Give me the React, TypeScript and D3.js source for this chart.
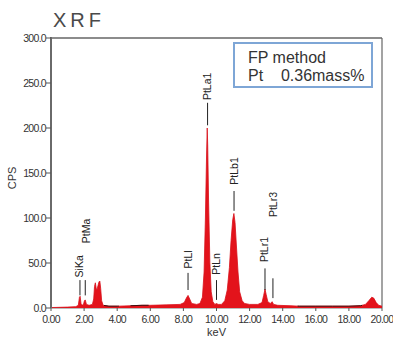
import React from "react";
import * as d3 from "d3";

const spectrumKeV = [0, 1.0, 1.5, 1.65, 1.72, 1.76, 1.82, 1.95, 2.02, 2.07, 2.14, 2.3, 2.5, 2.58, 2.63, 2.68, 2.73, 2.78, 2.84, 2.9, 2.95, 3.0, 3.06, 3.15, 3.5, 4.0, 4.8, 5.5, 6.0, 7.0, 7.8, 8.05, 8.18, 8.28, 8.38, 8.5, 8.8, 9.0, 9.15, 9.25, 9.33, 9.4, 9.44, 9.47, 9.52, 9.6, 9.68, 9.78, 9.9, 10.0, 10.1, 10.3, 10.5, 10.65, 10.78, 10.88, 10.98, 11.05, 11.12, 11.2, 11.3, 11.4, 11.55, 11.7, 12.0, 12.5, 12.75, 12.85, 12.93, 13.0, 13.1, 13.25, 13.36, 13.45, 13.7, 14.5, 15.0, 16, 17, 18, 18.7, 19.0, 19.2, 19.38, 19.5, 19.65, 19.8, 20];
const spectrumCPS = [0.5, 1, 1.5, 3, 12, 13, 4, 3, 8, 9, 4, 3, 4, 10, 24, 28, 22, 20, 25, 29, 30, 22, 8, 3, 2, 2, 2.5, 3, 3, 3.5, 4, 6, 11, 14, 10, 5, 4, 5, 12, 40, 100, 170, 200, 180, 120, 50, 18, 7, 4, 5, 4, 4, 8, 20, 45, 75, 98, 105, 95, 70, 40, 18, 8, 5, 4, 4, 6, 14, 21, 15, 7, 5, 7, 4, 3, 2.5, 2, 2, 2, 2, 2.5, 4, 8, 12, 11, 6, 3, 2];

const darkSegments: [number, number][] = [[3.2, 4.1], [4.8, 5.9], [14.9, 18.8]];

const markerNames = ["SiKa", "PtMa", "PtLl", "PtLa1", "PtLn", "PtLb1", "PtLr1", "PtLr3"];
const markerKeV = [1.75, 2.07, 8.28, 9.46, 10.0, 11.06, 12.93, 13.41];
const markerLabelKeV = [1.75, 2.13, 8.28, 9.48, 10.0, 11.08, 12.93, 13.45];
const markerLineLow = [14, 14, 20, 203, 9, 108, 20, 11];
const markerLineHigh = [31, 31, 39, 228, 31, 130, 44, 33];
const markerLabelBase = [34, 72, 44, 231, 37, 137, 51, 101];

const xTicks = [0, 2, 4, 6, 8, 10, 12, 14, 16, 18, 20];
const yTicks = [0, 50, 100, 150, 200, 250, 300];

const title = "XRF";
const legendLines = ["FP method", "Pt\u00a0\u00a0\u00a0\u00a00.36mass%"];

export default function App() {
  const W = 393, H = 338;
  const x = d3.scaleLinear().domain([0, 20]).range([51, 382]);
  const y = d3.scaleLinear().domain([0, 300]).range([308, 38]);
  const pts: [number, number][] = spectrumKeV.map((k, i) => [k, spectrumCPS[i]]);
  const area = d3.area<[number, number]>().x(d => x(d[0])).y0(y(0)).y1(d => y(d[1]));
  const line = d3.line<[number, number]>().x(d => x(d[0])).y(d => y(d[1]));
  const interp = (k: number) => {
    const i = d3.bisectLeft(spectrumKeV, k);
    if (i <= 0) return spectrumCPS[0];
    const k0 = spectrumKeV[i - 1], k1 = spectrumKeV[i];
    const t = (k - k0) / (k1 - k0);
    return spectrumCPS[i - 1] + t * (spectrumCPS[i] - spectrumCPS[i - 1]);
  };
  const font = "'Liberation Sans', Arial, sans-serif";
  return (
    <svg width={W} height={H} style={{ position: "absolute", left: 0, top: 0, background: "#fff" }} fontFamily={font}>
      <text x={53} y={27} fontSize={20} letterSpacing={4} fill="#4a4a4a">{title}</text>
      {/* frame */}
      <line x1={x(0)} x2={x(20)} y1={y(300)} y2={y(300)} stroke="#666" strokeWidth={1.4} />
      <line x1={x(20)} x2={x(20)} y1={y(300)} y2={y(0)} stroke="#666" strokeWidth={1.2} />
      <line x1={x(0)} x2={x(20)} y1={y(0)} y2={y(0)} stroke="#777" strokeWidth={1} />
      {/* spectrum */}
      <path d={area(pts) || ""} fill="#e3131b" />
      <path d={line(pts) || ""} fill="none" stroke="#d8101a" strokeWidth={0.8} />
      {darkSegments.map(([a, b], i) => {
        const seg = pts.filter(p => p[0] >= a && p[0] <= b);
        const full: [number, number][] = [[a, interp(a)], ...seg, [b, interp(b)]];
        return <path key={i} d={line(full) || ""} fill="none" stroke="#3a1010" strokeWidth={1} />;
      })}
      {/* left axis */}
      <line x1={x(0)} x2={x(0)} y1={y(300) - 1} y2={y(0)} stroke="#6a6a6a" strokeWidth={2} />
      {yTicks.map(t => (
        <g key={t}>
          <line x1={x(0) - 5} x2={x(0)} y1={y(t)} y2={y(t)} stroke="#555" strokeWidth={1} />
          <text x={x(0) - 5} y={y(t)} dy="0.35em" textAnchor="end" fontSize={10.5} letterSpacing={-0.7} fill="#333">{t.toFixed(1)}</text>
        </g>
      ))}
      {xTicks.map(t => (
        <g key={t}>
          <line x1={x(t)} x2={x(t)} y1={y(0)} y2={y(0) + 3} stroke="#555" strokeWidth={1} />
          <text x={x(t)} y={y(0) + 15} textAnchor="middle" fontSize={10.5} letterSpacing={-0.7} fill="#333">{t.toFixed(2)}</text>
        </g>
      ))}
      <text x={x(10)} y={y(0) + 28} textAnchor="middle" fontSize={11} fill="#333">keV</text>
      <text transform={`translate(16,${178}) rotate(-90)`} textAnchor="middle" fontSize={11} fill="#333">CPS</text>
      {/* markers */}
      {markerNames.map((n, i) => (
        <g key={n}>
          <line x1={x(markerKeV[i])} x2={x(markerKeV[i])} y1={y(markerLineLow[i])} y2={y(markerLineHigh[i])} stroke="#222" strokeWidth={1} />
          <text transform={`translate(${x(markerLabelKeV[i]) + 3.5},${y(markerLabelBase[i])}) rotate(-90)`} fontSize={10.5} fill="#222">{n}</text>
        </g>
      ))}
      {/* legend */}
      <rect x={234} y={43} width={138} height={44} fill="#fff" stroke="#7ea6d6" strokeWidth={2} />
      <text x={248} y={63} fontSize={16} fill="#333">{legendLines[0]}</text>
      <text x={248} y={81} fontSize={16} fill="#333">{legendLines[1]}</text>
    </svg>
  );
}
